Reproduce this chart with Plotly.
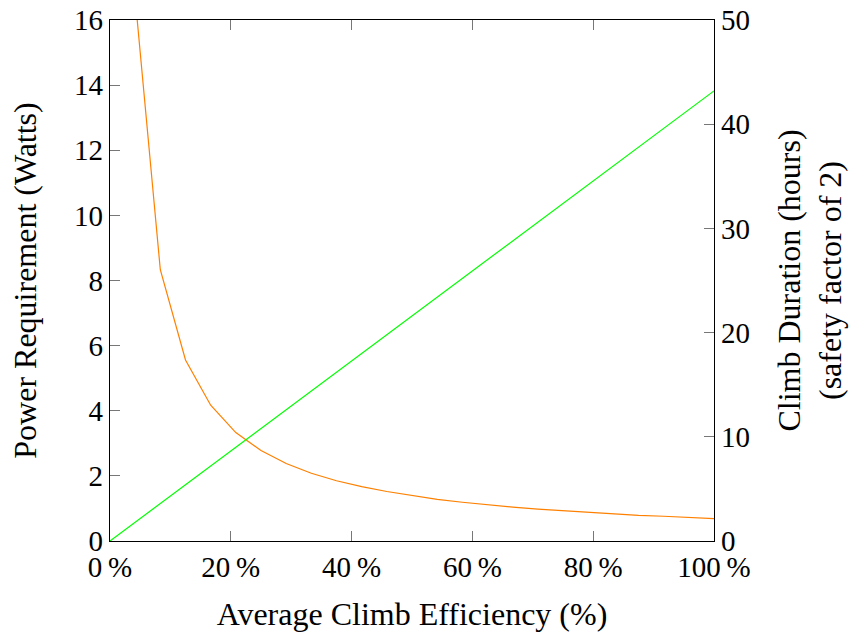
import plotly.graph_objects as go

efficiency_pct = [4.17, 8.33, 12.5, 16.67, 20.83, 25.0, 29.17, 33.33, 37.5, 41.67,
                  45.83, 50.0, 54.17, 58.33, 62.5, 66.67, 70.83, 75.0, 79.17, 83.33,
                  87.5, 91.67, 95.83, 100.0]
power_watts = [16.67, 8.33, 5.56, 4.17, 3.33, 2.78, 2.38, 2.08, 1.85, 1.67,
               1.52, 1.39, 1.28, 1.19, 1.11, 1.04, 0.98, 0.93, 0.88, 0.83,
               0.79, 0.76, 0.72, 0.69]
duration_x = [0.0, 100.0]
duration_hours = [0.0, 43.2]

x_ticks = [0, 20, 40, 60, 80, 100]
x_tick_labels = ["0\u2009%", "20\u2009%", "40\u2009%", "60\u2009%", "80\u2009%", "100\u2009%"]
y_ticks = [0, 2, 4, 6, 8, 10, 12, 14, 16]
y2_ticks = [0, 10, 20, 30, 40, 50]

FONT = "Liberation Serif"
TICK_SIZE = 29
TITLE_SIZE = 32
fig = go.Figure()
fig.add_trace(go.Scatter(x=efficiency_pct, y=power_watts, mode="lines",
                         line=dict(color="rgb(255,128,0)", width=1.2), yaxis="y"))
fig.add_trace(go.Scatter(x=duration_x, y=duration_hours, mode="lines",
                         line=dict(color="rgb(0,255,0)", width=1.2), yaxis="y2"))

axis_common = dict(showline=True, linecolor="black", linewidth=1.2, ticks="inside",
                   ticklen=10, tickcolor="#777", tickwidth=1, showgrid=False, zeroline=False,
                   automargin=False,
                   tickfont=dict(family=FONT, size=TICK_SIZE, color="black"))

fig.update_layout(
    width=849, height=632,
    margin=dict(l=110, r=135, t=20, b=91),
    paper_bgcolor="white", plot_bgcolor="white",
    showlegend=False,
    font=dict(family=FONT, size=TICK_SIZE, color="black"),
    xaxis=dict(range=[0, 100], tickvals=x_ticks, ticktext=x_tick_labels, mirror="ticks",
               title=dict(text="Average Climb Efficiency (%)", font=dict(family=FONT, size=TITLE_SIZE), standoff=22),
               **axis_common),
    yaxis=dict(range=[0, 16], tickvals=y_ticks,
               title=dict(text="Power Requirement (Watts)", font=dict(family=FONT, size=TITLE_SIZE), standoff=27),
               **axis_common),
    yaxis2=dict(range=[0, 50], tickvals=y2_ticks, overlaying="y", side="right",
                title=dict(text="Climb Duration (hours)<br>(safety factor of 2)", font=dict(family=FONT, size=TITLE_SIZE), standoff=28),
                **axis_common),
)

fig.write_html("out.html", config={"displayModeBar": False},
               post_script="document.body.style.margin='0';")
